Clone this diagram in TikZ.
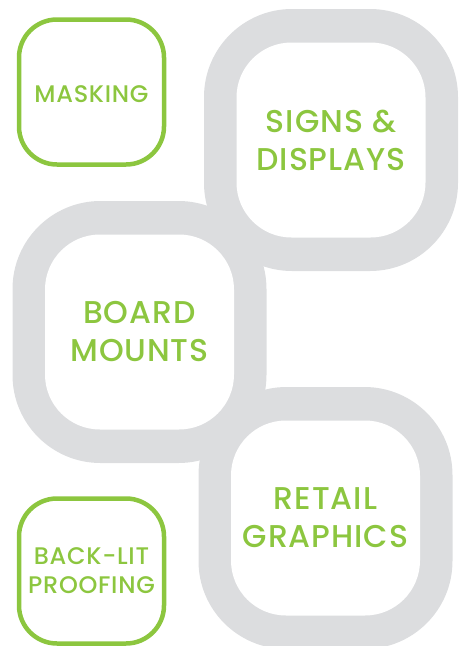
\documentclass[tikz,border=0pt]{standalone}
\usepackage{fontspec}
\setmainfont{Poppins Medium}[LetterSpace=3]
\definecolor{ringgrey}{HTML}{DCDDDF}
\definecolor{leafgreen}{HTML}{8CC63F}

\begin{document}
\begin{tikzpicture}[x=1pt,y=-1pt,
  ring/.style={fill=ringgrey, rounded corners=88pt, inner sep=0pt,
    minimum width=254pt, minimum height=262pt},
  hole/.style={fill=white, rounded corners=55pt, inner sep=0pt,
    minimum width=189pt, minimum height=195pt, text=leafgreen,
    align=center, font=\fontsize{31.5}{38}\selectfont},
  tile/.style={draw=leafgreen, line width=4.5pt, rounded corners=38pt,
    inner sep=0pt, minimum width=145pt, minimum height=145pt,
    text=leafgreen, align=center, font=\fontsize{24}{29}\selectfont}]
\useasboundingbox (0,0) rectangle (465,646);

% Grey rings
\foreach \n/\x/\y in {signs/331/140, board/139.5/332, retail/325.5/518}
  \node[ring] (\n-ring) at (\x,\y) {};

% Ring holes with labels
\node[hole] (signs) at (signs-ring) {SIGNS \&\\DISPLAYS};
\node[hole] (board) at (board-ring) {BOARD\\MOUNTS};
\node[hole] (retail) at (retail-ring) {RETAIL\\GRAPHICS};

% Small green tiles
\node[tile, text height=22pt] (masking) at (91.5,92) {MASKING};
\node[tile] (backlit) at (91.5,571) {BACK-LIT\\PROOFING};
\end{tikzpicture}
\end{document}
